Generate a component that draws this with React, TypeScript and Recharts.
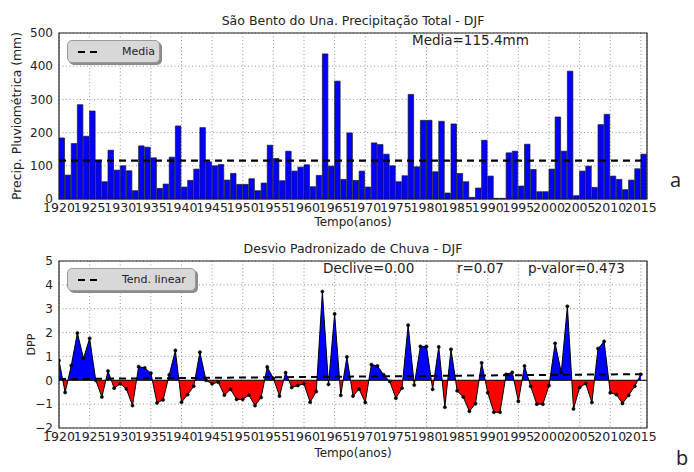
// Sao Bento do Una DJF rainfall: bar chart of totals (a) and standardized anomaly (b).
import React from 'react';
import {
  ComposedChart, Bar, Area, Line, XAxis, YAxis, CartesianGrid, ReferenceLine, ReferenceArea
} from 'recharts';

const YEARS = [
  1920, 1921, 1922, 1923, 1924, 1925, 1926, 1927, 1928, 1929,
  1930, 1931, 1932, 1933, 1934, 1935, 1936, 1937, 1938, 1939,
  1940, 1941, 1942, 1943, 1944, 1945, 1946, 1947, 1948, 1949,
  1950, 1951, 1952, 1953, 1954, 1955, 1956, 1957, 1958, 1959,
  1960, 1961, 1962, 1963, 1964, 1965, 1966, 1967, 1968, 1969,
  1970, 1971, 1972, 1973, 1974, 1975, 1976, 1977, 1978, 1979,
  1980, 1981, 1982, 1983, 1984, 1985, 1986, 1987, 1988, 1989,
  1990, 1991, 1992, 1993, 1994, 1995, 1996, 1997, 1998, 1999,
  2000, 2001, 2002, 2003, 2004, 2005, 2006, 2007, 2008, 2009,
  2010, 2011, 2012, 2013, 2014, 2015,
];

// total DJF precipitation (mm)
const PRECIP = [
  184, 72, 167, 284, 189, 265, 115, 52, 147, 87,
  100, 85, 25, 160, 156, 124, 32, 45, 126, 220,
  36, 56, 90, 215, 112, 100, 104, 57, 77, 44,
  44, 61, 25, 48, 162, 122, 55, 144, 84, 96,
  103, 37, 71, 437, 99, 355, 59, 199, 56, 84,
  36, 169, 164, 135, 100, 52, 70, 315, 97, 237,
  237, 82, 234, 18, 226, 77, 52, 5, 33, 177,
  69, 2, 2, 139, 144, 39, 165, 89, 22, 22,
  90, 247, 144, 385, 10, 84, 99, 35, 224, 255,
  69, 59, 28, 57, 91, 135,
];

// standardized anomaly (DPP)
const DPP = [
  0.83, -0.51, 0.62, 1.98, 0.92, 1.76, 0.0, -0.7, 0.39, -0.33,
  -0.15, -0.36, -1.06, 0.57, 0.52, 0.3, -0.95, -0.82, 0.23, 1.25,
  -0.92, -0.6, -0.25, 1.18, 0.0, -0.15, -0.08, -0.62, -0.38, -0.8,
  -0.8, -0.62, -1.06, -0.72, 0.56, 0.08, -0.66, 0.32, -0.3, -0.22,
  -0.15, -0.92, -0.47, 3.72, -0.17, 2.78, -0.63, 0.98, -0.66, -0.37,
  -0.93, 0.66, 0.6, 0.23, -0.05, -0.75, -0.33, 2.31, -0.2, 1.42,
  1.42, -0.38, 1.4, -1.13, 1.3, -0.44, -0.7, -1.3, -0.98, 0.73,
  -0.52, -1.34, -1.34, 0.25, 0.33, -0.88, 0.6, -0.25, -1.0, -1.0,
  -0.22, 1.55, 0.33, 3.1, -1.2, -0.3, -0.14, -0.93, 1.33, 1.63,
  -0.52, -0.6, -0.97, -0.63, -0.25, 0.25,
];

const MEAN_PRECIP = 115.4;
const TREND_YEARS = [1920, 2016];
const TREND_VALUES = [0.05, 0.26];

const X_TICKS = [1920, 1925, 1930, 1935, 1940, 1945, 1950, 1955, 1960, 1965,
  1970, 1975, 1980, 1985, 1990, 1995, 2000, 2005, 2010, 2015];
const PRECIP_TICKS = [0, 100, 200, 300, 400, 500];
const DPP_TICKS = [-2, -1, 0, 1, 2, 3, 4, 5];

const FONT = '"DejaVu Sans", sans-serif';
const INK = '#222';

// bars span [year, year+1], so center them half a year right
const precipRows = YEARS.map((y, i) => ({ x: y + 0.5, p: PRECIP[i] }));
const dppRows = YEARS.map((y, i) => ({ x: y, d: DPP[i] }));
const trendRows = TREND_YEARS.map((y, i) => ({ x: y, t: TREND_VALUES[i] }));

const dMax = Math.max(...DPP);
const dMin = Math.min(...DPP);
const split = dMax / (dMax - dMin); // where zero sits inside the area's bbox

const minus = (v: number) => String(v).replace('-', '\u2212');
const xTickStyle = { fontSize: 12.5, fill: INK, fontFamily: FONT };
const yTickStyle = { fontSize: 12, fill: INK, fontFamily: FONT };

const LegendBox: React.FC<{ left: number; top: number; width: number; label: string }> = ({ left, top, width, label }) => (
  <div style={{
    position: 'absolute', left, top, width, height: 23, boxSizing: 'border-box',
    background: '#d8d8d8', border: '1px solid #9a9a9a', borderRadius: 5,
    boxShadow: '2px 2px 0 #8c8c8c', display: 'flex', alignItems: 'center',
    fontFamily: FONT, fontSize: 11, color: INK,
  }}>
    <svg width={24} height={4} style={{ marginLeft: 10, marginRight: 20 }}>
      <line x1={0} y1={2} x2={24} y2={2} stroke="#000" strokeWidth={2.2} strokeDasharray="7 5" />
    </svg>
    {label}
  </div>
);

const Note: React.FC<{ left: number; top: number; size: number; children: React.ReactNode }> = ({ left, top, size, children }) => (
  <div style={{ position: 'absolute', left, top, fontFamily: FONT, fontSize: size, color: INK, lineHeight: '18px', whiteSpace: 'nowrap' }}>
    {children}
  </div>
);

export default function App() {
  return (
    <div style={{ position: 'absolute', left: 0, top: 0, width: 694, height: 472, background: '#fff', overflow: 'hidden' }}>
      {/* Panel a */}
      <div style={{ position: 'absolute', left: 0, top: 0 }}>
        <ComposedChart width={694} height={232} data={precipRows} margin={{ top: 33, right: 47, bottom: 3, left: 0 }}>
          <CartesianGrid stroke="#777" strokeWidth={0.8} strokeDasharray="1 2.5" />
          <XAxis type="number" dataKey="x" domain={[1920, 2016]} ticks={X_TICKS} interval={0}
            allowDataOverflow tickLine={false} axisLine={false} tickSize={1} tickMargin={3}
            tick={xTickStyle} height={30}
            label={{ value: 'Tempo(anos)', position: 'insideBottom', offset: 3, fontSize: 12, fill: INK, fontFamily: FONT }} />
          <YAxis type="number" domain={[0, 500]} ticks={PRECIP_TICKS} interval={0} width={59}
            tickLine={false} axisLine={false} tickSize={4} tickMargin={2} tick={yTickStyle}
            label={{ value: 'Precip. Pluviométrica (mm)', angle: -90, position: 'insideLeft', offset: 17,
              fontSize: 12.4, fill: INK, fontFamily: FONT, style: { textAnchor: 'middle' } }} />
          <Bar dataKey="p" fill="#0000ff" stroke="#1a1a1a" strokeWidth={0.7} barSize={6.125} isAnimationActive={false} />
          <ReferenceLine y={MEAN_PRECIP} stroke="#000" strokeWidth={2.2} strokeDasharray="7 5" />
          <ReferenceArea x1={1920} x2={2016} y1={0} y2={500} fill="none" stroke="#222" strokeWidth={1.2} />
        </ComposedChart>
      </div>

      {/* Panel b */}
      <div style={{ position: 'absolute', left: 0, top: 232 }}>
        <ComposedChart width={694} height={240} data={dppRows} margin={{ top: 29, right: 47, bottom: 14, left: 0 }}>
          <defs>
            <linearGradient id="dppSplit" x1="0" y1="0" x2="0" y2="1">
              <stop offset={split} stopColor="#0000ff" />
              <stop offset={split} stopColor="#ff0000" />
            </linearGradient>
          </defs>
          <CartesianGrid stroke="#777" strokeWidth={0.8} strokeDasharray="1 2.5" />
          <XAxis type="number" dataKey="x" domain={[1920, 2016]} ticks={X_TICKS} interval={0}
            allowDataOverflow tickLine={false} axisLine={false} tickSize={1} tickMargin={3}
            tick={xTickStyle} height={30}
            label={{ value: 'Tempo(anos)', position: 'insideBottom', offset: 1, fontSize: 12, fill: INK, fontFamily: FONT }} />
          <YAxis type="number" domain={[-2, 5]} ticks={DPP_TICKS} interval={0} width={59}
            tickLine={false} axisLine={false} tickSize={4} tickMargin={2} tick={yTickStyle}
            tickFormatter={minus}
            label={{ value: 'DPP', angle: -90, position: 'insideLeft', offset: 31,
              fontSize: 11, fill: INK, fontFamily: FONT, style: { textAnchor: 'middle' } }} />
          <Area type="linear" dataKey="d" baseValue={0} stroke="#000" strokeWidth={1}
            fill="url(#dppSplit)" fillOpacity={1}
            dot={{ r: 1.6, fill: '#000', stroke: '#000', strokeWidth: 0.5 }} activeDot={false}
            isAnimationActive={false} />
          <ReferenceLine y={0} stroke="#000" strokeWidth={1} />
          <Line data={trendRows} dataKey="t" stroke="#000" strokeWidth={2} strokeDasharray="7 5"
            dot={false} activeDot={false} isAnimationActive={false} />
          <ReferenceArea x1={1920} x2={2016} y1={-2} y2={5} fill="none" stroke="#222" strokeWidth={1.2} />
        </ComposedChart>
      </div>

      {/* titles, annotations, legends */}
      <div style={{ position: 'absolute', left: 59, width: 588, top: 13, textAlign: 'center', fontFamily: FONT, fontSize: 12.5, color: INK }}>
        São Bento do Una. Precipitação Total - DJF
      </div>
      <div style={{ position: 'absolute', left: 59, width: 588, top: 241, textAlign: 'center', fontFamily: FONT, fontSize: 12.5, color: INK }}>
        Desvio Padronizado de Chuva - DJF
      </div>
      <Note left={412} top={31} size={13.5}>Media=115.4mm</Note>
      <Note left={323} top={259} size={13.5}>Declive=0.00</Note>
      <Note left={457} top={259} size={13.5}>r=0.07</Note>
      <Note left={528} top={259} size={13.5}>p-valor=0.473</Note>
      <LegendBox left={67} top={40} width={93} label="Media" />
      <LegendBox left={67} top={268} width={129} label="Tend. linear" />
      <div style={{ position: 'absolute', left: 670, top: 166, fontFamily: '"Open Sans", sans-serif', fontSize: 20, color: INK }}>a</div>
      <div style={{ position: 'absolute', left: 676, top: 444, fontFamily: '"Open Sans", sans-serif', fontSize: 20, color: INK }}>b</div>
    </div>
  );
}
